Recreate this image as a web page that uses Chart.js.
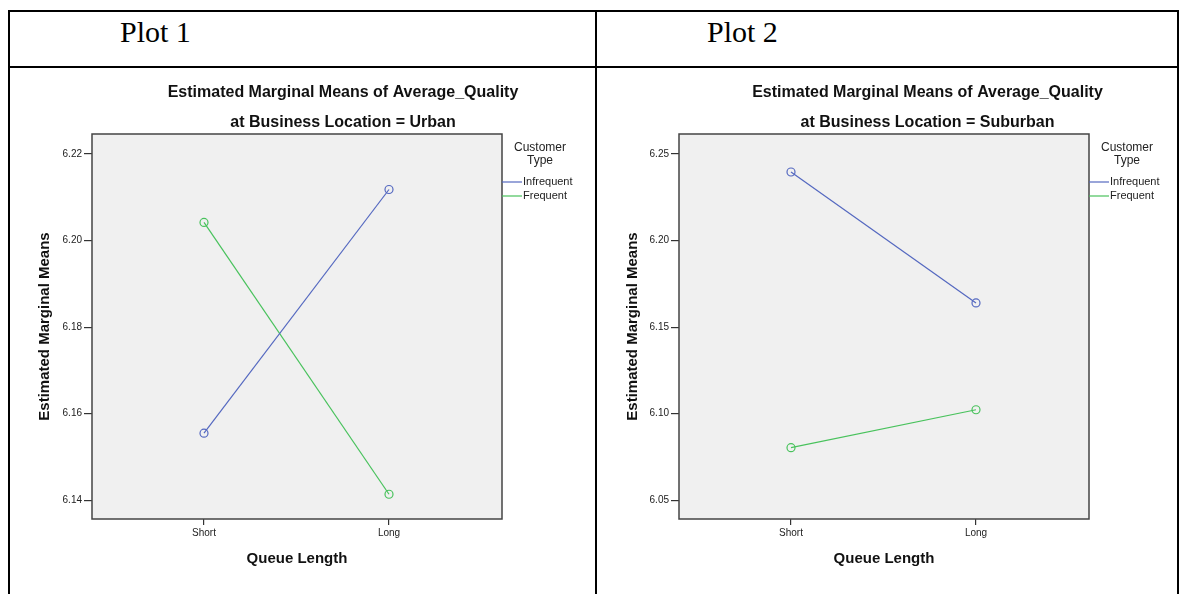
<!DOCTYPE html>
<html>
<head>
<meta charset="utf-8">
<script src="https://cdn.jsdelivr.net/npm/chart.js@4.4.1/dist/chart.umd.min.js"></script>
<style>
  html, body { margin: 0; padding: 0; background: #fff; }
  #page { position: relative; width: 1186px; height: 594px; overflow: hidden; background: #fff; }
  .rule { position: absolute; background: #000; }
  .plotlabel { position: absolute; font-family: "Liberation Serif", "Times New Roman", serif; font-size: 30px; color: #000; line-height: 1; }
  canvas { position: absolute; }
</style>
</head>
<body>
<div id="page">
  <div class="rule" style="left:8px; top:10px; width:1171px; height:2px;"></div>
  <div class="rule" style="left:8px; top:66px; width:1171px; height:2px;"></div>
  <div class="rule" style="left:8px; top:10px; width:2px; height:590px;"></div>
  <div class="rule" style="left:595px; top:10px; width:2px; height:590px;"></div>
  <div class="rule" style="left:1177px; top:10px; width:2px; height:590px;"></div>
  <div class="plotlabel" style="left:120px; top:17px;">Plot 1</div>
  <div class="plotlabel" style="left:707px; top:17px;">Plot 2</div>
  <canvas id="c1" width="584" height="525" style="left:10px; top:69px;"></canvas>
  <canvas id="c2" width="578" height="525" style="left:598px; top:69px;"></canvas>
</div>
<script>
// Factor levels and groups
const queueLengths = ['Short', 'Long'];
const customerTypes = ['Infrequent', 'Frequent'];
const legendTitle = ['Customer', 'Type'];
const mainTitle = 'Estimated Marginal Means of Average_Quality';

// Urban location: estimated marginal means
const urbanInfrequent = [6.1555, 6.2118];
const urbanFrequent = [6.2042, 6.1414];
const urbanTicks = [6.14, 6.16, 6.18, 6.20, 6.22];

// Suburban location: estimated marginal means
const suburbanInfrequent = [6.2396, 6.1640];
const suburbanFrequent = [6.0804, 6.1023];
const suburbanTicks = [6.05, 6.10, 6.15, 6.20, 6.25];

const seriesColors = ['#5468c0', '#48c25c'];
const FONT = '"Liberation Sans", Arial, sans-serif';

// Plot frame, titles and legend drawn around the chart area
const framePlugin = {
  id: 'frame',
  beforeDraw(chart) {
    const a = chart.chartArea, ctx = chart.ctx;
    ctx.save();
    ctx.fillStyle = '#f0f0f0';
    ctx.fillRect(a.left, a.top, a.right - a.left, a.bottom - a.top);
    ctx.restore();
  },
  afterDraw(chart) {
    const a = chart.chartArea, ctx = chart.ctx;
    const o = chart.options.plugins.frame;
    ctx.save();
    ctx.strokeStyle = '#444';
    ctx.lineWidth = 1.5;
    ctx.strokeRect(a.left, a.top, a.right - a.left, a.bottom - a.top);

    // titles
    ctx.fillStyle = '#111';
    ctx.textAlign = 'center';
    ctx.textBaseline = 'middle';
    ctx.font = 'bold 16px ' + FONT;
    const cx = (a.left + chart.width) / 2;
    ctx.fillText(o.title, cx, a.top - 41);
    ctx.fillText(o.subtitle, cx, a.top - 11);

    // legend
    const lx = a.right + 38;
    ctx.fillStyle = '#222';
    ctx.font = '12px ' + FONT;
    legendTitle.forEach((t, i) => ctx.fillText(t, lx, a.top + 14 + i * 13));
    ctx.font = '11px ' + FONT;
    ctx.textAlign = 'left';
    chart.data.datasets.forEach((ds, i) => {
      const y = a.top + 48 + i * 14;
      ctx.strokeStyle = ds.borderColor;
      ctx.lineWidth = 1.2;
      ctx.beginPath();
      ctx.moveTo(a.right, y);
      ctx.lineTo(a.right + 20, y);
      ctx.stroke();
      ctx.fillStyle = '#222';
      ctx.fillText(ds.label, a.right + 21, y);
    });
    ctx.restore();
  }
};

function makeChart(id, groups, ticks, subtitle, areaLeft) {
  const el = document.getElementById(id);
  const W = el.width;
  return new Chart(el, {
    type: 'line',
    data: {
      datasets: customerTypes.map((name, i) => ({
        label: name,
        data: groups[i].map((v, k) => ({ x: k, y: v })),
        borderColor: seriesColors[i],
        backgroundColor: 'rgba(0,0,0,0)',
        borderWidth: 1.2,
        pointRadius: 4,
        pointHoverRadius: 4,
        pointBorderWidth: 1.2,
        pointBorderColor: seriesColors[i],
        pointBackgroundColor: 'rgba(0,0,0,0)',
        tension: 0
      }))
    },
    options: {
      responsive: false,
      animation: false,
      events: [],
      layout: { padding: { top: 65, right: W - (areaLeft + 410), bottom: 0, left: 0 } },
      plugins: {
        legend: { display: false },
        title: { display: false },
        tooltip: { enabled: false },
        frame: { title: mainTitle, subtitle: subtitle }
      },
      scales: {
        x: {
          type: 'linear',
          min: -0.6054,
          max: 1.6108,
          afterFit: s => { s.height = 75; },
          afterBuildTicks: s => { s.ticks = queueLengths.map((_, k) => ({ value: k })); },
          grid: { display: true, drawOnChartArea: false, drawTicks: true, tickLength: 6, color: '#333', lineWidth: 1.2 },
          border: { display: false },
          ticks: {
            autoSkip: false, maxRotation: 0, padding: 2, color: '#222',
            font: { family: FONT, size: 10 },
            callback: v => queueLengths[v]
          },
          title: {
            display: true, text: 'Queue Length', color: '#111',
            font: { family: FONT, size: 15, weight: 'bold' },
            padding: { top: 0, bottom: 26 }
          }
        },
        y: {
          type: 'linear',
          min: ticks[0] - (ticks[1] - ticks[0]) * 0.216,
          max: ticks[ticks.length - 1] + (ticks[1] - ticks[0]) * 0.231,
          afterFit: s => { s.width = areaLeft; },
          afterBuildTicks: s => { s.ticks = ticks.map(v => ({ value: v })); },
          grid: { display: true, drawOnChartArea: false, drawTicks: true, tickLength: 8, color: '#333', lineWidth: 1.2 },
          border: { display: false },
          ticks: {
            autoSkip: false, padding: 2, color: '#222',
            font: { family: FONT, size: 10 },
            callback: v => Number(v).toFixed(2)
          },
          title: {
            display: true, text: 'Estimated Marginal Means', color: '#111',
            font: { family: FONT, size: 15, weight: 'bold' },
            padding: { top: 26, bottom: 0 }
          }
        }
      }
    },
    plugins: [framePlugin]
  });
}

makeChart('c1', [urbanInfrequent, urbanFrequent], urbanTicks, 'at Business Location = Urban', 82);
makeChart('c2', [suburbanInfrequent, suburbanFrequent], suburbanTicks, 'at Business Location = Suburban', 81);
</script>
</body>
</html>
